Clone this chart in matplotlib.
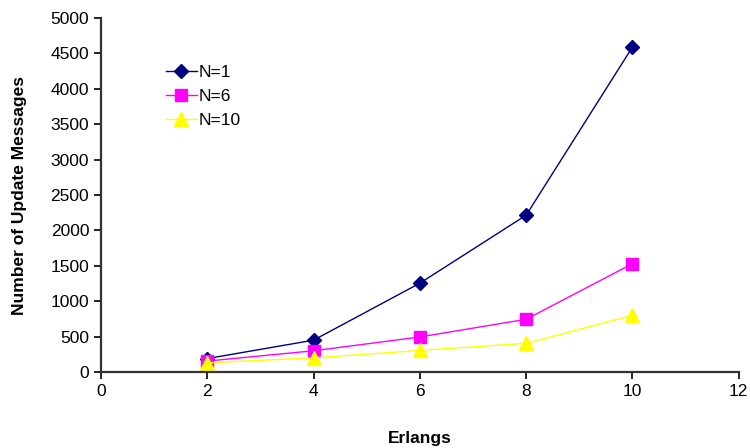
import matplotlib.pyplot as plt

plt.rcParams['font.family'] = ['Liberation Sans', 'DejaVu Sans']

erlangs = [2, 4, 6, 8, 10]
n1 = [190, 450, 1255, 2215, 4590]
n6 = [155, 300, 495, 745, 1530]
n10 = [130, 200, 305, 405, 800]

fig = plt.figure(figsize=(7.5, 4.48), dpi=100)
ax = fig.add_axes([0.1347, 0.1696, 0.8503, 0.7902])

ax.plot(erlangs, n1, color='#000080', marker='D', markersize=7, linewidth=1, label='N=1')
ax.plot(erlangs, n6, color='#FF00FF', marker='s', markersize=9, linewidth=1, label='N=6')
ax.plot(erlangs, n10, color='#FFFF00', marker='^', markersize=10, linewidth=1, label='N=10')

ax.set_xlim(0, 12)
ax.set_ylim(0, 5000)
ax.set_xticks(range(0, 13, 2))
ax.set_yticks(range(0, 5001, 500))
ax.spines['top'].set_visible(False)
ax.spines['right'].set_visible(False)
for s in ['left', 'bottom']:
    ax.spines[s].set_linewidth(1.6)
    ax.spines[s].set_color('#333333')
ax.tick_params(direction='out', labelsize=12.5, width=1.2, length=5, colors='black')
ax.set_xlabel('Erlangs', fontsize=12.5, fontweight='bold', labelpad=23)
ax.set_ylabel('Number of Update Messages', fontsize=12.5, fontweight='bold', labelpad=17)

ax.legend(loc='upper left', bbox_to_anchor=(0.077, 0.912), frameon=False, fontsize=12.5,
          handlelength=1.8, labelspacing=0.5, handletextpad=0.1)

fig.savefig('out.png')
